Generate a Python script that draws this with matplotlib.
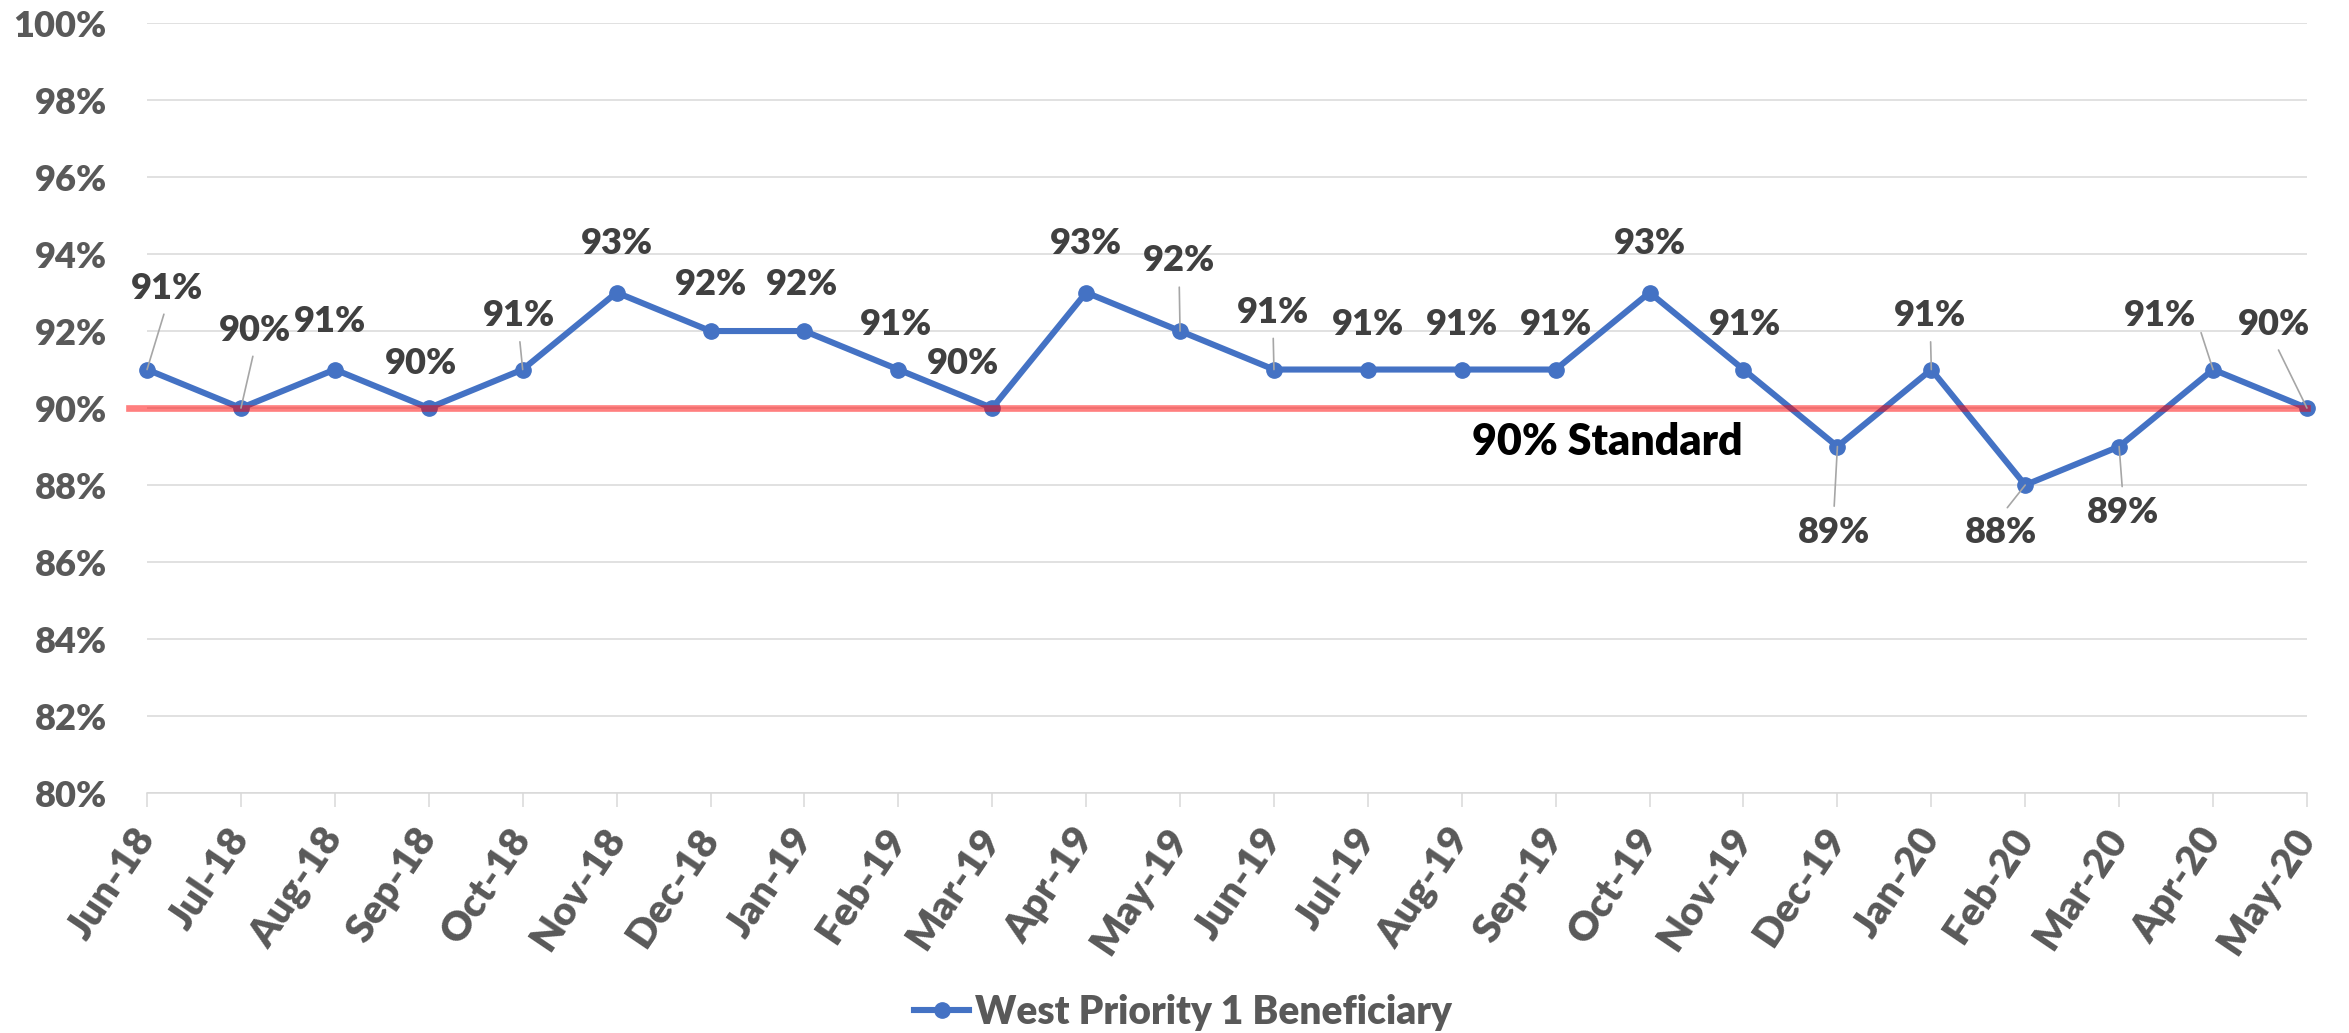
import matplotlib
matplotlib.use("Agg")
import matplotlib.pyplot as plt
from matplotlib.ticker import FuncFormatter

months = ["Jun-18", "Jul-18", "Aug-18", "Sep-18", "Oct-18", "Nov-18", "Dec-18", "Jan-19",
          "Feb-19", "Mar-19", "Apr-19", "May-19", "Jun-19", "Jul-19", "Aug-19", "Sep-19",
          "Oct-19", "Nov-19", "Dec-19", "Jan-20", "Feb-20", "Mar-20", "Apr-20", "May-20"]
values = [91, 90, 91, 90, 91, 93, 92, 92, 91, 90, 93, 92,
          91, 91, 91, 91, 93, 91, 89, 91, 88, 89, 91, 90]
standard = 90
series_name = "West Priority 1 Beneficiary"
standard_label = "90% Standard"

# label placement relative to its point: (dx categories, dy percent points, leader line?)
label_offsets = [(0.21, 2.11, True), (0.15, 2.02, True), (-0.05, 1.25, False), (-0.08, 1.15, False),
                 (-0.04, 1.40, True), (0.0, 1.28, False), (0.0, 1.20, False), (-0.03, 1.20, False),
                 (-0.03, 1.17, False), (-0.31, 1.15, False), (0.0, 1.28, False), (-0.01, 1.82, True),
                 (-0.01, 1.49, True), (0.0, 1.17, False), (0.0, 1.17, False), (0.0, 1.17, False),
                 (0.0, 1.28, False), (0.02, 1.17, False), (-0.04, -2.23, True), (-0.01, 1.40, True),
                 (-0.26, -1.23, True), (0.04, -1.72, True), (-0.56, 1.40, True), (-0.35, 2.17, True)]

FONT = ["Lato", "DejaVu Sans"]
WEIGHT = "heavy"
BLUE = "#4472c4"
GRID = "#d9d9d9"
AXIS_TXT = "#595959"
LABEL_TXT = "#404040"
FS = 26

plt.rcParams["font.family"] = FONT
plt.rcParams["font.weight"] = WEIGHT

fig = plt.figure(figsize=(23.49, 10.33), dpi=100)
ax = fig.add_axes([0.0626, 0.2323, 0.9195, 0.7454])

x = list(range(len(months)))
ax.plot(x, values, color=BLUE, lw=4.4, marker="o", markersize=11, zorder=3,
        clip_on=False, label=series_name)
ax.axhline(standard, xmin=-0.0085, xmax=1.0, color="#ff0000", alpha=0.5, lw=4.8,
           zorder=4, clip_on=False)
ax.text(15.55, standard - 0.88, standard_label, ha="center", va="center",
        fontsize=FS + 5, fontweight=WEIGHT, color="black", zorder=5)

for i, (v, (dx, dy, leader)) in enumerate(zip(values, label_offsets)):
    arrow = None
    if leader:
        if i == 22:
            arrow = dict(arrowstyle="-", color="#a6a6a6", lw=1.2, shrinkA=4, shrinkB=0,
                         relpos=(1.0, 0.5), connectionstyle="angle,angleA=0,angleB=108,rad=0")
        else:
            arrow = dict(arrowstyle="-", color="#a6a6a6", lw=1.2, shrinkA=5, shrinkB=0,
                         relpos=(0.5, 0.0) if dy > 0 else (0.5, 1.0))
    ax.annotate(f"{v}%", xy=(i, v), xytext=(i + dx, v + dy), textcoords="data",
                ha="center", va="center", fontsize=FS, fontweight=WEIGHT,
                color=LABEL_TXT, arrowprops=arrow, zorder=5)

ax.set_xlim(0, len(months) - 1)
ax.set_ylim(80, 100)
ax.set_yticks(range(80, 101, 2))
ax.yaxis.set_major_formatter(FuncFormatter(lambda y, _: f"{y:.0f}%"))
ax.set_xticks(x)
ax.set_xticklabels(months, rotation=56, ha="right", va="center", rotation_mode="anchor")

ax.grid(axis="y", color=GRID, lw=1.1, zorder=0)
ax.set_axisbelow(True)
for side in ("top", "right", "left"):
    ax.spines[side].set_visible(False)
ax.spines["bottom"].set_color(GRID)
ax.spines["bottom"].set_linewidth(1.1)
ax.tick_params(axis="y", length=0, pad=29, labelsize=FS, labelcolor=AXIS_TXT)
ax.tick_params(axis="x", length=10, width=1.1, color=GRID, pad=18, labelsize=FS + 3,
               labelcolor=AXIS_TXT)

leg = fig.legend(loc="center", bbox_to_anchor=(0.5036, 0.02), frameon=False,
                 fontsize=FS + 2, handlelength=1.4, handletextpad=0.15)
for t in leg.get_texts():
    t.set_color(AXIS_TXT)

fig.savefig("out.png", dpi=100)
